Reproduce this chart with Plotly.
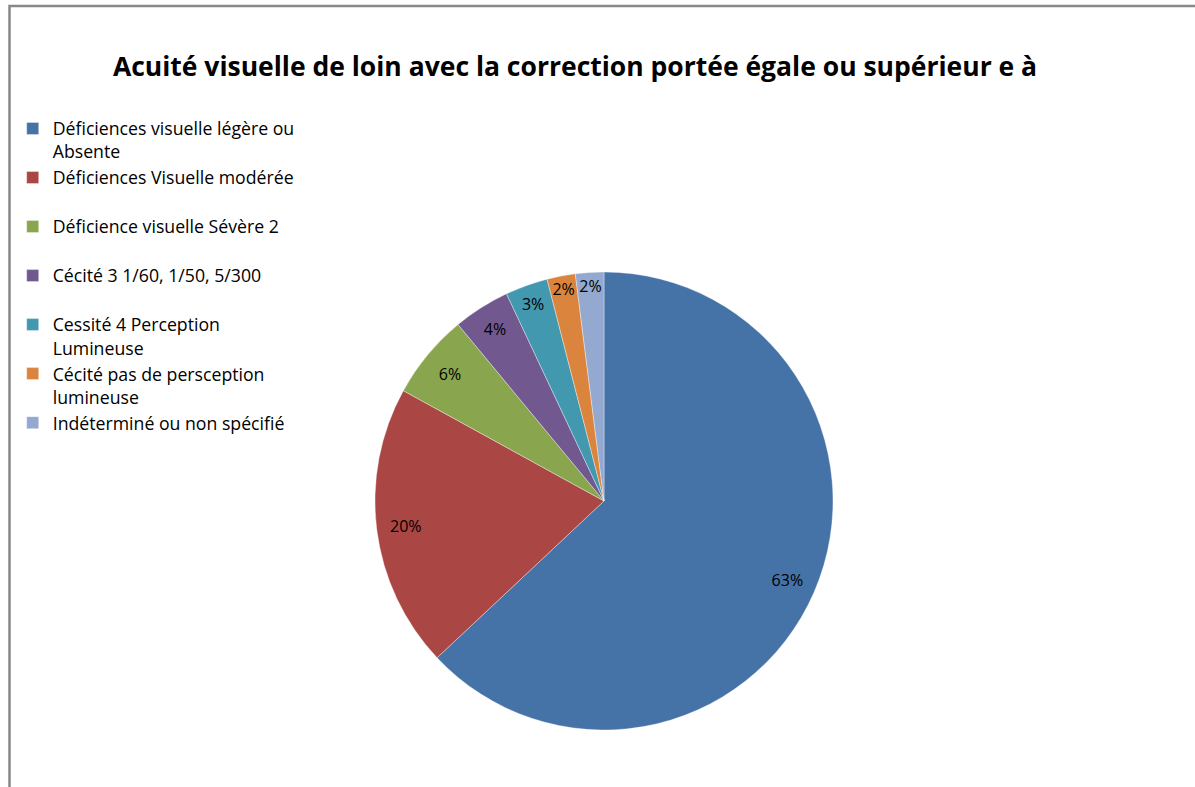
import plotly.graph_objects as go

categories = [
    "Déficiences visuelle légère ou<br>Absente",
    "Déficiences Visuelle modérée<br>&nbsp;",
    "Déficience visuelle Sévère 2<br>&nbsp;",
    "Cécité 3 1/60, 1/50, 5/300<br>&nbsp;",
    "Cessité 4 Perception<br>Lumineuse",
    "Cécité pas de persception<br>lumineuse",
    "Indéterminé ou non spécifié",
]
values = [63, 20, 6, 4, 3, 2, 2]
colors = ["#4572A7", "#AA4643", "#89A54E", "#71588F", "#4198AF", "#DB843D", "#93A9CF"]

W, H = 1195, 787
cx, cy, r = 604, 501, 229
dom = dict(x=[(cx - r) / W, (cx + r) / W], y=[1 - (cy + r) / H, 1 - (cy - r) / H])

fig = go.Figure()
# coloured slices
fig.add_trace(go.Pie(
    labels=categories,
    values=values,
    sort=False,
    direction="clockwise",
    rotation=0,
    marker=dict(colors=colors, line=dict(color="rgba(255,255,255,0.6)", width=0.6)),
    textinfo="none",
    domain=dom,
    hoverinfo="label+percent",
))
# transparent ring carrying the percentage labels near the rim
fig.add_trace(go.Pie(
    labels=categories,
    values=values,
    sort=False,
    direction="clockwise",
    rotation=0,
    hole=0.745,
    marker=dict(colors=["rgba(0,0,0,0)"] * len(values), line=dict(width=0)),
    texttemplate="%{percent:.0%}",
    textposition="inside",
    insidetextorientation="horizontal",
    textfont=dict(family="Open Sans, sans-serif", size=16, color="black"),
    domain=dom,
    showlegend=False,
    hoverinfo="skip",
))

fig.update_layout(
    width=W, height=H,
    margin=dict(l=0, r=0, t=0, b=0),
    paper_bgcolor="white",
    plot_bgcolor="white",
    uniformtext=dict(minsize=16, mode="show"),
    title=dict(
        text="<b>Acuité visuelle de loin avec la correction portée égale ou supérieur e à</b>",
        x=575 / W, xanchor="center", y=1 - 67 / H, yanchor="middle",
        font=dict(family="Open Sans, sans-serif", size=26.5, color="black"),
    ),
    legend=dict(
        x=12.7 / W, xanchor="left", y=1 - 110.5 / H, yanchor="top",
        font=dict(family="Open Sans, sans-serif", size=17.7, color="black"),
        valign="top",
        traceorder="normal",
        bgcolor="rgba(0,0,0,0)",
        itemwidth=30,
    ),
    shapes=[dict(
        type="rect", xref="paper", yref="paper",
        x0=9.5 / W, x1=1.05, y0=-0.05, y1=1 - 6 / H,
        line=dict(color="#888888", width=2.5), fillcolor="rgba(0,0,0,0)",
        layer="above",
    )],
)

fig.write_html("out.html", config={"displayModeBar": False},
               post_script="document.body.style.margin='0';")
